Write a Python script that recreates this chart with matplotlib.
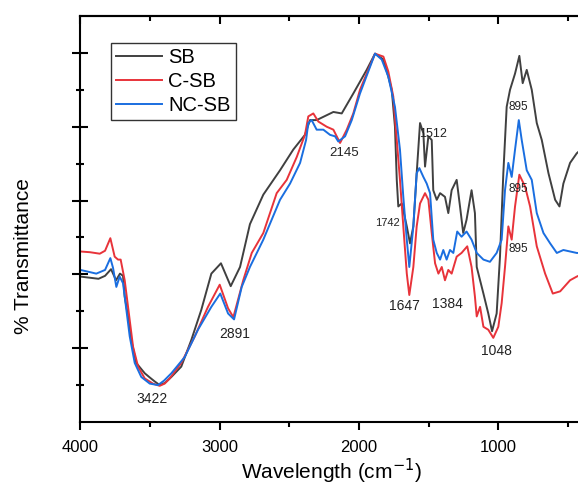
import matplotlib
matplotlib.use("Agg")
import matplotlib.pyplot as plt
import numpy as np

plt.rcParams['font.family'] = ['Liberation Sans', 'DejaVu Sans']

# ---- data (wavenumber cm-1, transmittance, arbitrary units) ----
sb_wn = [4000, 3870, 3823, 3780, 3744, 3716, 3694, 3682, 3658, 3635, 3599, 3538, 3500, 3467, 3431,
         3393, 3347, 3276, 3204, 3132, 3060, 2991, 2921, 2854, 2783, 2687, 2567, 2472, 2388, 2352,
         2304, 2184, 2124, 2041, 1945, 1885, 1825, 1790, 1765, 1742, 1729, 1718, 1693, 1657,
         1634, 1610, 1586, 1562, 1538, 1526, 1502, 1478, 1467, 1442, 1418, 1383, 1359, 1335,
         1299, 1275, 1252, 1228, 1192, 1168, 1155, 1107, 1072, 1045, 1012, 988, 964, 940, 916,
         880, 849, 825, 796, 760, 724, 688, 640, 592, 561, 533, 485, 437, 425]
sb_t = [19.7, 19.4, 19.8, 20.7, 19.2, 20.1, 19.8, 17.0, 14.3, 11.1, 8.0, 6.6, 6.0, 5.5, 5.0,
        5.3, 6.1, 7.5, 11.1, 15.2, 20.1, 21.5, 18.4, 21.0, 26.8, 30.8, 34.1, 36.9, 38.9, 40.9,
        40.9, 42.0, 41.8, 44.5, 47.7, 49.9, 49.1, 46.8, 45.0, 40.0, 32.8, 29.2, 29.6, 26.5,
        24.2, 26.5, 33.7, 40.5, 39.1, 34.6, 38.7, 38.2, 31.4, 30.1, 31.0, 30.5, 28.3, 31.4,
        32.8, 29.2, 25.6, 27.4, 31.4, 28.3, 21.0, 17.4, 14.7, 12.3, 14.7, 22.4, 33.7, 42.7, 45.0,
        47.2, 49.6, 45.9, 47.7, 45.0, 40.5, 38.2, 33.7, 30.1, 29.2, 32.3, 35.1, 36.4, 36.6]

csb_wn = [4000, 3931, 3861, 3823, 3785, 3754, 3730, 3711, 3682, 3646, 3622, 3586, 3538, 3479,
          3431, 3395, 3359, 3276, 3179, 3084, 3000, 2940, 2902, 2831, 2770, 2687, 2591, 2519, 2447,
          2388, 2364, 2328, 2292, 2232, 2184, 2136, 2088, 2041, 1993, 1945, 1885, 1825, 1790,
          1754, 1729, 1706, 1682, 1657, 1639, 1610, 1586, 1562, 1526, 1502, 1478, 1454, 1430,
          1406, 1383, 1359, 1335, 1299, 1264, 1223, 1192, 1168, 1155, 1131, 1107, 1072, 1036,
          1000, 976, 952, 928, 904, 880, 849, 808, 772, 724, 664, 609, 556, 485, 437, 425]
csb_t = [23.1, 23.0, 22.8, 23.2, 24.9, 22.4, 22.0, 22.0, 19.2, 13.8, 10.2, 7.5, 5.9, 5.2,
         4.9, 5.2, 5.9, 8.0, 11.6, 15.6, 18.6, 15.4, 14.2, 19.2, 22.9, 25.6, 31.0, 32.8, 35.9,
         38.9, 41.4, 41.8, 40.7, 40.0, 39.6, 37.8, 39.6, 41.8, 45.0, 47.2, 49.9, 49.5, 47.5,
         44.1, 38.2, 32.8, 26.5, 20.1, 17.2, 21.0, 26.5, 29.6, 31.0, 30.1, 25.6, 21.5, 20.1,
         21.0, 19.2, 20.6, 20.1, 22.4, 22.9, 23.8, 21.0, 17.0, 14.3, 15.6, 12.9, 12.5, 11.4,
         12.9, 16.1, 21.0, 26.5, 24.7, 29.2, 33.5, 31.9, 29.2, 23.8, 20.1, 17.4, 17.7, 19.2, 19.7, 19.8]

ncsb_wn = [4000, 3931, 3886, 3823, 3785, 3766, 3742, 3718, 3694, 3670, 3646, 3610, 3563, 3502,
           3443, 3400, 3347, 3251, 3156, 3060, 2996, 2940, 2897, 2842, 2783, 2687, 2567, 2495, 2423,
           2380, 2364, 2340, 2304, 2256, 2208, 2172, 2149, 2100, 2052, 1993, 1933, 1885, 1837,
           1790, 1742, 1706, 1682, 1657, 1639, 1610, 1586, 1567, 1538, 1514, 1490, 1467, 1442,
           1418, 1395, 1371, 1347, 1323, 1295, 1264, 1228, 1192, 1155, 1107, 1060, 1012, 976,
           952, 928, 904, 880, 853, 832, 796, 760, 724, 676, 628, 580, 533, 485, 437, 425]
ncsb_t = [20.6, 20.3, 20.1, 20.6, 22.2, 20.9, 18.3, 19.7, 18.8, 15.2, 11.6, 8.0, 6.1, 5.2,
          5.0, 5.6, 6.6, 8.8, 12.5, 15.6, 17.4, 14.7, 13.9, 18.3, 21.0, 24.7, 30.1, 32.3, 35.1,
          38.2, 40.5, 40.9, 39.6, 39.6, 38.9, 38.7, 38.0, 38.7, 40.9, 44.5, 47.5, 49.9, 49.1,
          46.8, 42.7, 36.9, 30.5, 24.7, 21.0, 26.5, 33.7, 34.4, 33.2, 32.3, 31.0, 24.7, 22.9,
          22.0, 23.3, 22.0, 23.3, 22.9, 25.8, 25.1, 25.8, 24.7, 22.9, 22.0, 21.7, 22.9, 24.7,
          31.4, 35.1, 33.2, 36.9, 40.9, 38.2, 34.1, 32.8, 28.3, 25.6, 24.2, 22.9, 23.3, 23.1, 22.9, 22.9]

series_names = ['SB', 'C-SB', 'NC-SB']
series_colors = ['#404040', '#e8333a', '#1a6ee0']

peak_labels = ['3422', '2891', '2145', '1512', '895', '895', '1742', '1647', '1384', '1048', '895']
peak_x = [3488, 2890, 2108, 1470, 858, 858, 1797, 1677, 1362, 1016, 858]
peak_y = [3.1, 11.9, 36.4, 39.0, 42.7, 31.6, 27.0, 15.7, 16.0, 9.6, 23.4]
peak_size = [10, 10, 9.5, 9, 8.5, 8.5, 8, 10, 10, 10, 8.5]

x_major = [4000, 3000, 2000, 1000]
x_minor = [3500, 2500, 1500, 500]

# ---- figure ----
fig = plt.figure(figsize=(5.78, 4.86), dpi=100)
ax = fig.add_axes([80.4 / 578, 64 / 486, 1 - 80.4 / 578, 406 / 486])

for wn, t, name, col in zip([sb_wn, csb_wn, ncsb_wn], [sb_t, csb_t, ncsb_t], series_names, series_colors):
    ax.plot(wn, t, color=col, lw=1.4, label=name)

ax.set_xlim(4000, 428)
ax.set_ylim(0, 55)

ax.set_xticks(x_major)
ax.set_xticks(x_minor, minor=True)
ax.set_yticks([10, 20, 30, 40, 50])
ax.set_yticks([5, 15, 25, 35, 45], minor=True)
ax.set_yticklabels([])

for s in ['left', 'bottom', 'top']:
    ax.spines[s].set_linewidth(1.5)
ax.spines['right'].set_visible(False)

ax.tick_params(axis='x', which='major', direction='out', length=6, width=1.5, labelsize=12, pad=7)
ax.tick_params(axis='x', which='minor', direction='out', length=3.5, width=1.5)
ax.tick_params(axis='y', which='major', direction='inout', length=11, width=1.5)
ax.tick_params(axis='y', which='minor', direction='inout', length=5.5, width=1.5)

top = ax.secondary_xaxis('top')
top.set_xticks(x_major)
top.set_xticks(x_minor, minor=True)
top.tick_params(axis='x', which='major', direction='in', length=6, width=1.5, labeltop=False)
top.tick_params(axis='x', which='minor', direction='in', length=3.5, width=1.5)
top.spines['top'].set_linewidth(1.5)

for lab, xx, yy, fs in zip(peak_labels, peak_x, peak_y, peak_size):
    ax.text(xx, yy, lab, ha='center', va='center', fontsize=fs, color='#222222')

ax.set_xlabel('Wavelength (cm$^{-1}$)', fontsize=15)
ax.xaxis.set_label_coords(0.504, -0.086)
ax.set_ylabel('% Transmittance', fontsize=15)
ax.yaxis.set_label_coords(-0.095, 0.408)

leg = ax.legend(loc='upper left', bbox_to_anchor=(0.061, 0.933), borderaxespad=0,
                fontsize=14.5, frameon=True, fancybox=False, edgecolor='black',
                handlelength=2.3, handletextpad=0.3, labelspacing=0.25, borderpad=0.25)
leg.get_frame().set_linewidth(1.0)

fig.savefig('out.png', dpi=100)
